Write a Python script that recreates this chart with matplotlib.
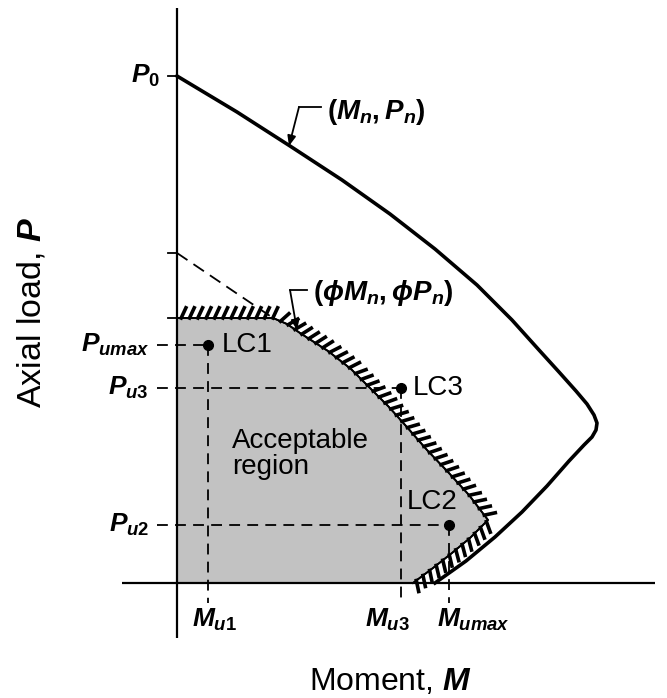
import matplotlib
matplotlib.use("Agg")
import matplotlib.pyplot as plt
import matplotlib.patheffects as pe

plt.rcParams['font.family'] = ['Liberation Sans', 'DejaVu Sans']
plt.rcParams['mathtext.fontset'] = 'custom'
plt.rcParams['mathtext.it'] = 'Liberation Sans:italic:bold'
plt.rcParams['mathtext.rm'] = 'Liberation Sans:bold'
plt.rcParams['mathtext.bf'] = 'Liberation Sans:bold'

# nominal strength curve (Mn, Pn)
nominal_m = [0, 60, 113, 165, 213, 258, 300, 335, 362, 382, 399, 410, 417, 420,
             419, 415, 407, 392, 370, 345, 318, 289, 258]
nominal_p = [507, 471, 437, 403, 369, 334, 298, 263, 233, 211, 192, 179, 168,
             160, 153, 146, 138, 122, 97, 71, 46, 22, 0]

# design strength curve (phi Mn, phi Pn)
design_m = [0, 96, 110, 123, 151, 174, 193, 212, 229, 250, 271, 292, 311, 293,
            275, 256, 236]
design_p = [265, 265, 259, 250, 232, 214, 195, 176, 157, 133, 111, 88, 63, 45,
            30, 15, 0]

# capacity levels on the load axis
p_zero = 507
p_cap_line = 330

# load cases
case_names = ["LC1", "LC3", "LC2"]
case_m = [31, 224, 272]
case_p = [238, 195, 58]
p_labels = [r"$P_{umax}$", r"$P_{u3}$", r"$P_{u2}$"]
m_labels = [r"$M_{u1}$", r"$M_{u3}$", r"$M_{umax}$"]

fig = plt.figure(figsize=(6.67, 6.98), dpi=100)
ax = fig.add_axes([0, 0, 1, 1])
ax.set_xlim(-177, 490)
ax.set_ylim(-115, 583)
ax.axis("off")

# axes lines
ax.plot([0, 0], [-55, 575], color="black", lw=1.6, solid_capstyle="butt")
ax.plot([-55, 478], [0, 0], color="black", lw=1.6, solid_capstyle="butt")

# acceptable region
ax.fill(design_m + [0], design_p + [0], color="#c2c2c2", lw=0, zorder=1)
ax.plot(design_m, design_p, color="black", lw=1.3, zorder=3,
        path_effects=[pe.Stroke(linewidth=1.3, foreground="black"),
                      pe.withTickedStroke(spacing=6, angle=65, length=1.35,
                                          linewidth=2.6)])

# nominal curve
ax.plot(nominal_m, nominal_p, color="black", lw=2.6, solid_joinstyle="round",
        zorder=3)

# reduced dashed line up to the cap
ax.plot([0, 96], [p_cap_line, design_p[0]], color="black", lw=1.3,
        dashes=(7, 4), zorder=2)

# ticks on the load axis
for p in [p_zero, p_cap_line, design_p[0]]:
    ax.plot([-9, 0], [p, p], color="black", lw=1.3)

# load case guide lines
dash = (6, 4)
m_label_x = [15, 188, 260]
for m, p, pl, ml, mx in zip(case_m, case_p, p_labels, m_labels, m_label_x):
    ax.plot([-20, m], [p, p], color="black", lw=1.3, dashes=dash, zorder=2)
    ax.plot([m, m], [p, -20], color="black", lw=1.3, dashes=dash, zorder=2)
    ax.plot([m], [p], "o", color="black", ms=7, zorder=4)
    ax.text(-28, p, pl, ha="right", va="center", fontsize=19)
    ax.text(mx, -37, ml, ha="left", va="center", fontsize=19)

ax.text(case_m[0] + 14, case_p[0], case_names[0], ha="left", va="center",
        fontsize=20)
ax.text(case_m[1] + 12, case_p[1], case_names[1], ha="left", va="center",
        fontsize=20)
ax.text(case_m[2] - 42, case_p[2] + 23, case_names[2], ha="left",
        va="center", fontsize=20)

ax.text(-17, p_zero, r"$P_0$", ha="right", va="center", fontsize=19)

ax.text(55, 129, "Acceptable\nregion", ha="left", va="center", fontsize=20,
        linespacing=1.0)

# curve labels with leaders
ax.plot([144, 122], [476, 476], color="black", lw=1.3)
ax.annotate("", xy=(112, 437), xytext=(122, 476),
            arrowprops=dict(arrowstyle="-|>,head_length=0.6,head_width=0.25",
                            color="black", lw=1.3, shrinkA=0, shrinkB=0))
ax.text(150, 471, r"$(M_n,P_n)$", ha="left", va="center", fontsize=20)

ax.plot([130, 113], [293, 293], color="black", lw=1.3)
ax.annotate("", xy=(120, 253), xytext=(113, 293),
            arrowprops=dict(arrowstyle="-|>,head_length=0.6,head_width=0.25",
                            color="black", lw=1.3, shrinkA=0, shrinkB=0))
ax.text(136, 290, r"$(\phi M_n,\phi P_n)$", ha="left", va="center",
        fontsize=20)

# axis titles
ax.text(213, -99, r"Moment, $M$", ha="center", va="center", fontsize=23)
ax.text(-145, 271, r"Axial load, $P$", ha="center", va="center",
        fontsize=24.5, rotation=90)

fig.savefig("out.png", dpi=100)
